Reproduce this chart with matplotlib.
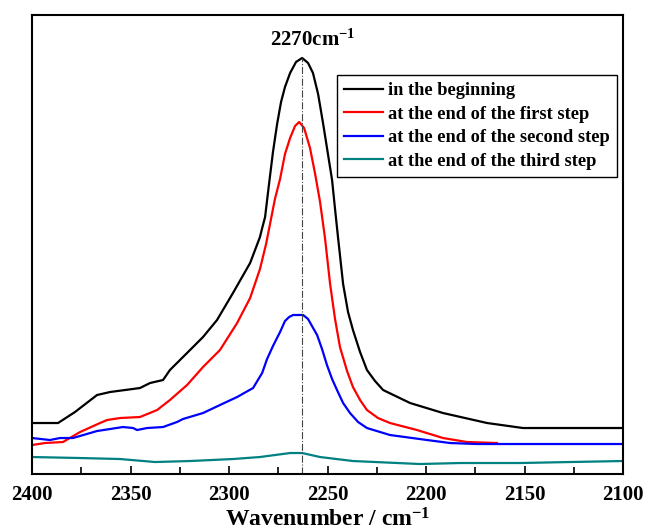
import matplotlib
matplotlib.use("Agg")
import matplotlib.pyplot as plt
from matplotlib.ticker import MultipleLocator

plt.rcParams['font.family'] = ['Liberation Serif', 'DejaVu Serif']
plt.rcParams['font.weight'] = 'bold'
plt.rcParams['mathtext.fontset'] = 'custom'
plt.rcParams['mathtext.rm'] = 'Liberation Serif:bold'
plt.rcParams['mathtext.default'] = 'rm'

# spectra (wavenumber, absorbance in arbitrary units)
wn_begin = [2400.0, 2386.8, 2378.2, 2367.0, 2360.4, 2345.2, 2340.1, 2333.5, 2330.0,
            2319.8, 2313.2, 2306.1, 2298.0, 2289.3, 2284.3, 2283.3, 2281.7, 2279.7,
            2277.7, 2275.6, 2273.6, 2271.6, 2269.0, 2266.0, 2262.9, 2259.9, 2257.4,
            2254.8, 2252.3, 2249.8, 2247.7, 2246.2, 2244.7, 2242.1, 2239.6, 2237.1,
            2233.5, 2230.0, 2225.9, 2221.8, 2208.1, 2191.4, 2169.0, 2150.8, 2100.0]
a_begin = [51, 51, 62, 79, 82, 86, 91, 94, 104,
           124, 137, 154, 181, 211, 237, 245, 257, 290,
           322, 350, 372, 387, 401, 412, 416, 411, 401,
           380, 351, 320, 294, 265, 237, 190, 162, 144,
           122, 104, 93, 84, 71, 61, 51, 46, 46]

wn_first = [2400.0, 2393.4, 2384.3, 2375.6, 2365.5, 2361.9, 2355.3, 2345.2, 2336.5,
            2330.0, 2321.3, 2313.2, 2304.6, 2295.9, 2289.3, 2284.3, 2281.2, 2279.2,
            2276.7, 2274.1, 2271.6, 2269.0, 2266.5, 2264.4, 2261.9, 2258.9, 2256.3,
            2253.8, 2251.3, 2248.7, 2246.2, 2243.7, 2240.1, 2237.1, 2233.5, 2230.0,
            2224.4, 2218.3, 2204.6, 2191.4, 2179.2, 2164.0]
a_first = [29, 31, 32, 42, 51, 54, 56, 57, 64,
           74, 89, 107, 124, 151, 176, 205, 230, 250,
           275, 295, 320, 336, 348, 352, 346, 326, 300,
           272, 236, 190, 155, 127, 103, 87, 74, 64,
           56, 51, 44, 36, 32, 31]

wn_second = [2400.0, 2390.9, 2385.8, 2379.2, 2367.0, 2353.8, 2348.7, 2346.7, 2341.6,
             2333.5, 2326.4, 2323.4, 2313.2, 2304.6, 2295.9, 2287.8, 2283.2, 2280.7,
             2277.7, 2274.1, 2271.6, 2269.5, 2267.5, 2262.4, 2259.9, 2257.9, 2255.3,
             2252.8, 2250.3, 2247.7, 2245.2, 2242.1, 2238.6, 2234.5, 2230.0, 2218.3,
             2199.5, 2187.8, 2174.1, 2100.0]
a_second = [36, 34, 36, 36, 43, 47, 46, 44, 46,
            47, 52, 55, 61, 69, 77, 86, 101, 115,
            128, 142, 153, 157, 159, 159, 155, 148, 139,
            125, 109, 95, 84, 71, 61, 52, 46, 39,
            34, 31, 30, 30]

wn_third = [2400.0, 2375.6, 2355.3, 2337.6, 2319.8, 2298.0, 2284.3, 2269.0, 2262.9,
            2253.8, 2237.1, 2203.1, 2182.7, 2152.3, 2126.9, 2100.0]
a_third = [17, 16, 15, 12, 13, 15, 17, 21, 21,
           17, 13, 10, 11, 11, 12, 13]

labels = ['in the beginning', 'at the end of the first step',
          'at the end of the second step', 'at the end of the third step']
colors = ['black', '#ff0000', '#0000ff', '#008080']
peak_wn = 2263

fig = plt.figure(figsize=(6.47, 5.31), dpi=100)
ax = fig.add_axes([0.0495, 0.1073, 0.9135, 0.8645])

series = [(wn_begin, a_begin), (wn_first, a_first), (wn_second, a_second), (wn_third, a_third)]
for (x, y), lab, c in zip(series, labels, colors):
    ax.plot(x, y, color=c, lw=1.6, label=lab)

ax.plot([peak_wn, peak_wn], [0, max(a_begin)], ls='-.', color='#444444', lw=0.8)
ax.text(2279, 428, '2270cm$^{-1}$', ha='left', va='baseline', fontsize=15, fontweight='bold')

ax.set_xlim(2400, 2100)
ax.set_ylim(0, 459)
ax.xaxis.set_major_locator(MultipleLocator(50))
ax.xaxis.set_minor_locator(MultipleLocator(25))
ax.tick_params(axis='x', which='major', direction='in', length=6, width=1.2, labelsize=15, pad=8)
ax.tick_params(axis='x', which='minor', direction='in', length=5, width=1.2)
ax.set_yticks([])
for lbl in ax.get_xticklabels():
    lbl.set_fontweight('bold')
for sp in ax.spines.values():
    sp.set_linewidth(1.5)

ax.set_xlabel('Wavenumber / cm$^{-1}$', fontsize=17, fontweight='bold', labelpad=2)

leg = ax.legend(loc='upper right', bbox_to_anchor=(0.99, 0.87), fontsize=13.2,
                handlelength=2.1, handletextpad=0.3, labelspacing=0.36,
                fancybox=False, framealpha=1, borderpad=0.4, borderaxespad=0)
leg.get_frame().set_edgecolor('black')
leg.get_frame().set_linewidth(1.0)
for t in leg.get_texts():
    t.set_fontweight('bold')

fig.savefig('out.png', dpi=100)
